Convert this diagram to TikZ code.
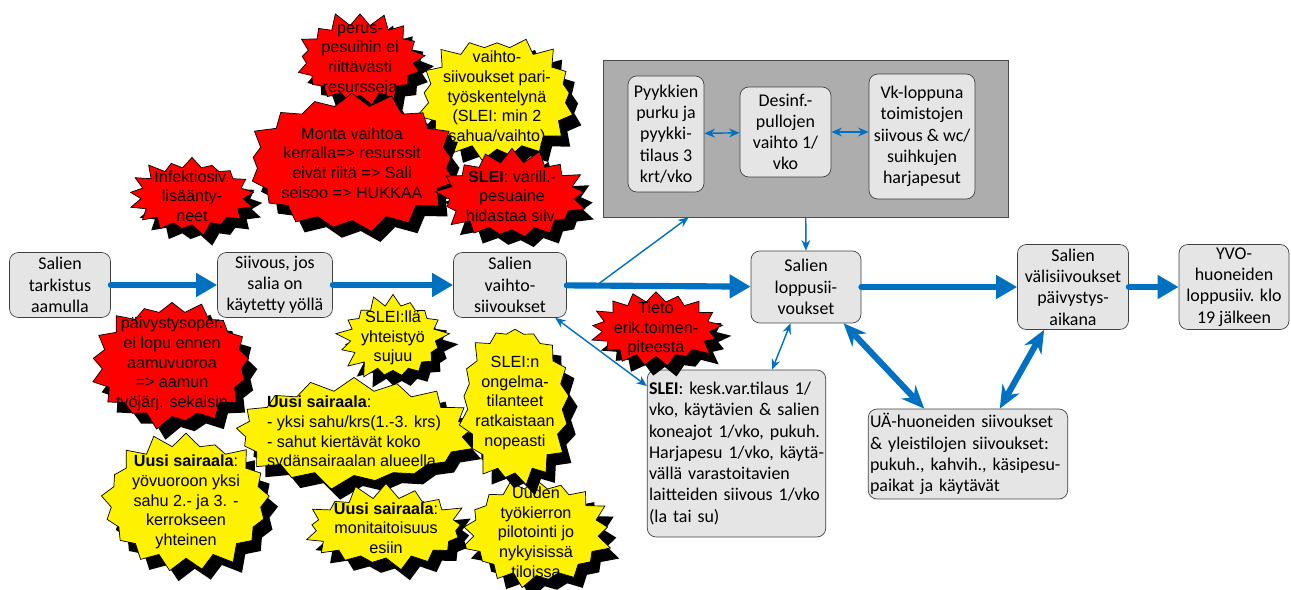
\documentclass[tikz,border=0pt]{standalone}
\usepackage{fontspec}
\setmainfont{Carlito}
\newfontfamily\burstfamily{Liberation Sans}
\usepackage{tikz}
\usetikzlibrary{shapes.symbols,shadows,arrows.meta}
\definecolor{flowblue}{RGB}{0,112,192}
\newcommand{\burstfont}{\burstfamily\fontsize{9.2}{11.2}\selectfont}
\newcommand{\boxfont}{\fontsize{10.2}{12.1}\selectfont}
\tikzstyle{stage}=[draw=black!75, fill=black!10, rounded corners=5pt, align=center, inner sep=1pt, font=\boxfont]
\tikzstyle{panel}=[draw=black!70, fill=black!32, inner sep=0]
\tikzstyle{blast}=[starburst, starburst point height=0.3cm, draw=black, line width=0.4pt,
                   inner sep=-30pt, align=center, font=\burstfont,
                   % Solid black shadow, lower right.
                   drop shadow={fill=black, opacity=1, shadow xshift=5pt, shadow yshift=-6pt}]
\tikzstyle{problem}=[blast, fill=red]
\tikzstyle{remedy}=[blast, fill=yellow]
\tikzstyle{flow}=[flowblue, line width=3.5pt, line cap=round, -{Triangle[length=12pt,width=13pt]}]
\tikzstyle{bigtwoway}=[flowblue, line width=3.5pt, {Stealth[length=13pt,width=11pt]}-{Stealth[length=13pt,width=11pt]}]
\tikzstyle{link}=[flowblue, line width=0.8pt, -{Stealth[length=6pt,width=5pt]}]
\tikzstyle{twoway}=[flowblue, line width=0.8pt, {Stealth[length=6pt,width=5pt]}-{Stealth[length=6pt,width=5pt]}]
\begin{document}
\begin{tikzpicture}[x=0.02cm, y=-0.02cm]
    \useasboundingbox (0,0) rectangle (1291,590);
    % Main chain
    \node[stage, minimum width=2.02cm, minimum height=1.3cm] (tarkistus) at (60,285) {Salien\\tarkistus\\aamulla};
    \node[stage, minimum width=2.3cm, minimum height=1.3cm] (siivous) at (275,285) {Siivous, jos\\salia on\\käytetty yöllä};
    \node[stage, minimum width=2.26cm, minimum height=1.3cm] (vaihto) at (510,285) {Salien\\vaihto-\\siivoukset};
    \node[stage, minimum width=2.2cm, minimum height=1.44cm] (loppusii) at (806,287) {Salien\\loppusii-\\voukset};
    \node[stage, minimum width=2.22cm, minimum height=1.7cm] (valisiiv) at (1073,287) {Salien\\välisiivoukset\\päivystys-\\aikana};
    \node[stage, minimum width=2.2cm, minimum height=1.7cm] (yvo) at (1234,287) {YVO-\\huoneiden\\loppusiiv. klo\\19 jälkeen};
    \node[stage, align=left, text width=3.5cm, minimum height=3.34cm] (slei) at (736.5,453.5)
        {\textbf{SLEI}: kesk.var.tilaus 1/\\vko, käytävien \& salien\\koneajot 1/vko, pukuh.\\Harjapesu 1/vko, käytä-\\vällä varastoitavien\\laitteiden siivous 1/vko\\(la tai su)};
    \node[stage, align=left, text width=3.92cm, minimum height=1.8cm] (ua) at (968,454)
        {UÄ-huoneiden siivoukset\\\& yleistilojen siivoukset:\\pukuh., kahvih., käsipesu-\\paikat ja käytävät};
    % Weekly tasks
    \node[panel, minimum width=8.1cm, minimum height=3.14cm] (panel) at (805.5,138.5) {};
    \node[stage, minimum width=1.52cm, minimum height=2.32cm] (pyykki) at (666,134) {Pyykkien\\purku ja\\pyykki-\\tilaus 3\\krt/vko};
    \node[stage, minimum width=1.82cm, minimum height=1.8cm] (desinf) at (785.5,132) {Desinf.-\\pullojen\\vaihto 1/\\vko};
    \node[stage, minimum width=2.12cm, minimum height=2.5cm] (vkloppu) at (922,136.5) {Vk-loppuna\\toimistojen\\siivous \& wc/\\suihkujen\\harjapesut};
    % Bursts above the chain
    \node[problem, minimum width=2.75cm, minimum height=2cm, random starburst=11] (perus) at (360,60) {perus-\\pesuihin ei\\riittävästi\\resursseja};
    \node[remedy, minimum width=3.35cm, minimum height=2.65cm, random starburst=23] (paripesu) at (497,98) {vaihto-\\siivoukset pari-\\työskentelynä\\(SLEI: min 2\\sahua/vaihto)};
    \node[problem, minimum width=4.4cm, minimum height=2.9cm, random starburst=37] (monta) at (352,163) {Monta vaihtoa\\kerralla=> resurssit\\eivät riitä => Sali\\seisoo => HUKKAA};
    \node[problem, minimum width=2.65cm, minimum height=1.75cm, random starburst=41] (infektio) at (192,196) {Infektiosiv.\\lisäänty-\\neet};
    \node[problem, minimum width=3.1cm, minimum height=1.95cm, random starburst=53] (vari) at (512,196) {\textbf{SLEI}: värill.-\\pesuaine\\hidastaa siiv.};
    % Bursts below the chain
    \node[problem, minimum width=3.4cm, minimum height=2.7cm, random starburst=61] (paivystys) at (172,364) {päivystysoper.\\ei lopu ennen\\aamuvuoroa\\=> aamun\\työjärj. sekaisin};
    \node[remedy, minimum width=2.3cm, minimum height=1.9cm, random starburst=67] (yhteistyo) at (393,338) {SLEI:llä\\yhteistyö\\sujuu};
    \node[remedy, minimum width=3.1cm, minimum height=2.35cm, random starburst=71] (uuden) at (536,532) {Uuden\\työkierron\\pilotointi jo\\nykyisissä\\tiloissa};
    \node[remedy, align=left, minimum width=4.95cm, minimum height=2.3cm, random starburst=73] (yksisahu) at (354,433) {\textbf{Uusi sairaala}:\\- yksi sahu/krs(1.-3. krs)\\- sahut kiertävät koko\\sydänsairaalan alueella};
    \node[remedy, minimum width=2.5cm, minimum height=3.4cm, random starburst=79] (ongelma) at (515,403) {SLEI:n\\ongelma-\\tilanteet\\ratkaistaan\\nopeasti};
    \node[remedy, minimum width=3.6cm, minimum height=2.85cm, random starburst=83] (yovuoro) at (186,502) {\textbf{Uusi sairaala}:\\yövuoroon yksi\\sahu 2.- ja 3. -\\kerrokseen\\yhteinen};
    \node[remedy, minimum width=3.4cm, minimum height=1.8cm, random starburst=89] (monitaito) at (386,528) {\textbf{Uusi sairaala}:\\monitaitoisuus\\esiin};
    \node[problem, minimum width=2.75cm, minimum height=1.7cm, random starburst=97] (tieto) at (656,329) {Tieto\\erik.toimen-\\piteestä};
    % Connectors
    \draw[flow] (tarkistus) -- (siivous);
    \draw[flow] (siivous) -- (vaihto);
    \draw[flow] (vaihto) -- (loppusii);
    \draw[flow] (loppusii) -- (valisiiv);
    \draw[flow] (valisiiv) -- (yvo);
    \draw[bigtwoway] (loppusii.-44) -- (ua.134);
    \draw[bigtwoway] (valisiiv.-124) -- (ua.55);
    \coordinate (branch) at (597,285);
    \draw[link] (branch) -- (panel.-146);
    \draw[link] (panel) -- (loppusii);
    \draw[twoway] (vaihto.-36) -- (slei.143);
    \draw[twoway] (loppusii.-113) -- (slei.67);
    \draw[twoway] (pyykki) -- (desinf);
    \draw[twoway] (desinf.east) -- (desinf.east -| vkloppu.west);
\end{tikzpicture}
\end{document}
